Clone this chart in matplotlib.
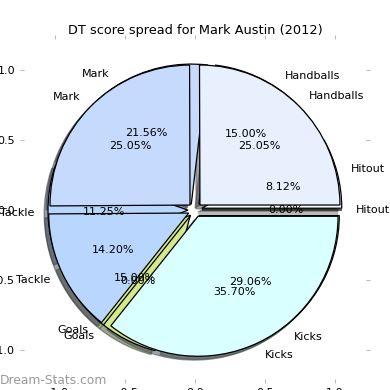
import matplotlib
matplotlib.use("Agg")
import matplotlib.pyplot as plt

# DT score categories, in the order the wedges are drawn
labels = ['Hitout', 'Handballs', 'Mark', 'Tackle', 'Goals', 'Kicks']
colors = ['#f8f9ff', '#e8f0fe', '#c6dafe', '#b9d6fe', '#d3e98a', '#d9ffff']

# two spreads drawn one over the other (percent of DT score)
spread_a = [8.12, 15.00, 21.56, 11.25, 15.00, 29.06]
spread_b = [0.00, 25.05, 25.05, 14.20, 0.00, 35.70]

explode = [0.05] * len(labels)

fig = plt.figure(figsize=(3.9, 3.9), dpi=100)
ax = fig.add_axes([20 / 390, 7 / 390, 350 / 390, 348 / 390])

for vals in (spread_a, spread_b):
    ax.pie(vals, labels=labels, colors=colors, explode=explode,
           autopct='%1.2f%%', shadow=True, startangle=0,
           labeldistance=1.1, pctdistance=0.6,
           textprops={'fontsize': 8},
           wedgeprops={'edgecolor': 'black', 'linewidth': 0.9})

ax.set_aspect('auto')
ax.set_xlim(-1.25, 1.25)
ax.set_ylim(-1.236, 1.25)
ticks = [-1.0, -0.5, 0.0, 0.5, 1.0]
ax.set_xticks(ticks)
ax.set_yticks(ticks)
ax.tick_params(direction='in', length=3, color='#bbbbbb', labelsize=8,
               top=True, right=True)
ax.set_title('DT score spread for Mark Austin (2012)', fontsize=9.3, pad=1)

fig.text(0.0, 10 / 390, 'Dream-Stats.com', fontsize=8.8, color='#9a9a9a',
         va='center', ha='left')

fig.savefig('out.png', dpi=100)
